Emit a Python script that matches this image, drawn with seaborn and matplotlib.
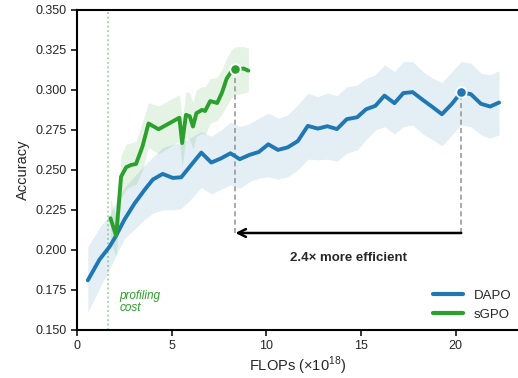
import numpy as np
import pandas as pd
import seaborn as sns
import matplotlib
matplotlib.use("Agg")
import matplotlib.pyplot as plt

# DAPO: FLOPs (x1e18), mean accuracy, band low / high
dapo_flops = [0.56, 1.18, 1.71, 2.06, 2.5, 3.03, 3.56, 4.0, 4.52, 5.05, 5.5, 5.95,
              6.56, 7.09, 7.62, 8.1, 8.59, 9.11, 9.6, 10.1, 10.61, 11.13, 11.66,
              12.19, 12.72, 13.22, 13.73, 14.25, 14.8, 15.27, 15.76, 16.24, 16.77,
              17.24, 17.73, 18.26, 18.79, 19.28, 19.81, 20.3, 20.81, 21.34, 21.83, 22.3]
dapo_acc = [0.181, 0.194, 0.202, 0.209, 0.219, 0.229, 0.2375, 0.244, 0.2475, 0.245,
            0.2454, 0.252, 0.2608, 0.2546, 0.2573, 0.2604, 0.2567, 0.2594, 0.2612,
            0.266, 0.2625, 0.2641, 0.268, 0.2775, 0.2758, 0.2773, 0.2755, 0.2817,
            0.2829, 0.2879, 0.29, 0.2964, 0.2917, 0.298, 0.2986, 0.2938, 0.2892,
            0.2848, 0.2913, 0.2986, 0.2973, 0.2913, 0.2896, 0.2921]
dapo_lo = [0.161, 0.176, 0.188, 0.197, 0.207, 0.213, 0.219, 0.223, 0.225, 0.225,
           0.226, 0.231, 0.239, 0.235, 0.238, 0.2406, 0.2385, 0.2427, 0.2448,
           0.2458, 0.2442, 0.2458, 0.25, 0.2567, 0.2563, 0.2567, 0.2554, 0.2604,
           0.2625, 0.2688, 0.275, 0.277, 0.2725, 0.277, 0.2781, 0.2725, 0.2688,
           0.265, 0.2719, 0.2781, 0.277, 0.2719, 0.2698, 0.2719]
dapo_hi = [0.202, 0.214, 0.222, 0.23, 0.239, 0.246, 0.253, 0.258, 0.264, 0.266,
           0.267, 0.27, 0.274, 0.271, 0.275, 0.28, 0.277, 0.279, 0.2823, 0.2854,
           0.2823, 0.2844, 0.2906, 0.2979, 0.2958, 0.298, 0.2963, 0.302, 0.303,
           0.3073, 0.3094, 0.3156, 0.3115, 0.3177, 0.3177, 0.3115, 0.3073, 0.3046,
           0.3115, 0.3177, 0.3167, 0.3104, 0.3094, 0.312]

# sGPO
sgpo_flops = [1.76, 2.06, 2.32, 2.59, 2.85, 3.11, 3.45, 3.77, 4.3, 5.4, 5.55, 5.75,
              5.95, 6.12, 6.3, 6.6, 6.76, 7.03, 7.4, 7.66, 7.9, 8.15, 8.36, 8.8, 9.05]
sgpo_acc = [0.2198, 0.2088, 0.2458, 0.2517, 0.2531, 0.2537, 0.2646, 0.279, 0.2754,
            0.2826, 0.2668, 0.2844, 0.2835, 0.2771, 0.2854, 0.2875, 0.2868, 0.293,
            0.2918, 0.2985, 0.307, 0.3115, 0.313, 0.3133, 0.312]
sgpo_lo = [0.205, 0.196, 0.232, 0.238, 0.24, 0.241, 0.25, 0.264, 0.26, 0.268, 0.252,
           0.27, 0.269, 0.263, 0.271, 0.273, 0.272, 0.279, 0.281, 0.285, 0.29, 0.295,
           0.297, 0.298, 0.299]
sgpo_hi = [0.232, 0.221, 0.259, 0.266, 0.267, 0.268, 0.28, 0.292, 0.29, 0.297, 0.282,
           0.299, 0.298, 0.292, 0.3, 0.302, 0.302, 0.307, 0.308, 0.313, 0.32, 0.325,
           0.327, 0.327, 0.326]

profiling_cost = 1.65
sgpo_best = (8.36, 0.313)
dapo_best = (20.3, 0.2986)
arrow_y = 0.2106
speedup_label = "2.4× more efficient"

sns.set_style("ticks")
plt.rcParams['font.family'] = ['Liberation Sans', 'DejaVu Sans']
plt.rcParams['mathtext.fontset'] = 'custom'
plt.rcParams['mathtext.rm'] = 'Liberation Sans'

blue = "#1f77b4"
green = "#2ca02c"

df = pd.concat([
    pd.DataFrame({"flops": dapo_flops, "acc": dapo_acc, "method": "DAPO"}),
    pd.DataFrame({"flops": sgpo_flops, "acc": sgpo_acc, "method": "sGPO"}),
])

fig = plt.figure(figsize=(5.18, 3.78), dpi=100)
ax = fig.add_axes([0.149, 0.127, 0.851, 0.847])

ax.fill_between(dapo_flops, dapo_lo, dapo_hi, color=blue, alpha=0.12, lw=0)
ax.fill_between(sgpo_flops, sgpo_lo, sgpo_hi, color=green, alpha=0.12, lw=0)
sns.lineplot(data=df, x="flops", y="acc", hue="method", palette=[blue, green],
             lw=2.8, sort=False, estimator=None, ax=ax)

ax.axvline(profiling_cost, color=green, alpha=0.45, ls=(0, (1, 1.5)), lw=1.3, zorder=1)
ax.text(profiling_cost + 0.6, 0.1675, "profiling\ncost", color=green, style="italic",
        fontsize=8.5, va="center", ha="left", linespacing=1.1)

for px, py, c in [(sgpo_best[0], sgpo_best[1], green), (dapo_best[0], dapo_best[1], blue)]:
    ax.plot([px, px], [arrow_y, py], color="#999999", ls=(0, (3, 2)), lw=1.2, zorder=1)
    ax.plot(px, py, "o", ms=7.5, color=c, mec="white", mew=1.3, zorder=5)

ax.annotate("", xy=(sgpo_best[0], arrow_y), xytext=(dapo_best[0], arrow_y),
            arrowprops=dict(arrowstyle="->", color="black", lw=1.8, mutation_scale=14,
                            shrinkA=0, shrinkB=0))
ax.text((sgpo_best[0] + dapo_best[0]) / 2, 0.195, speedup_label,
        fontsize=9.5, fontweight="bold", ha="center", va="center")

ax.set_xlim(0, 23.3)
ax.set_ylim(0.15, 0.35)
ax.set_xticks([0, 5, 10, 15, 20])
ax.set_yticks(np.arange(0.15, 0.351, 0.025))
ax.yaxis.set_major_formatter(matplotlib.ticker.FormatStrFormatter('%.3f'))
ax.set_xlabel("FLOPs (×10$^{18}$)", fontsize=10.5, labelpad=2)
ax.set_ylabel("Accuracy", fontsize=10.5)
ax.tick_params(labelsize=9, length=4, width=1.3)
for s in ["left", "bottom", "top"]:
    ax.spines[s].set_linewidth(1.5)
    ax.spines[s].set_color("black")
ax.spines["right"].set_visible(False)

leg = ax.legend(loc="lower right", frameon=False, fontsize=9.5, handlelength=2.3,
                bbox_to_anchor=(1.012, -0.008), title=None)
for h in leg.get_lines():
    h.set_linewidth(3)

fig.savefig("out.png", dpi=100)
